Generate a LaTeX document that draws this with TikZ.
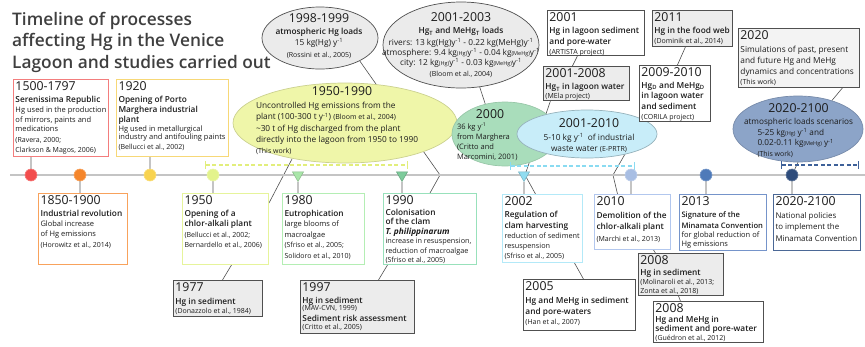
\documentclass[tikz,border=0pt]{standalone}
\usepackage{fontspec}
\setmainfont{Open Sans}
\IfFontExistsTF{Open Sans Semibold}{\newfontfamily\semib{Open Sans Semibold}}{\IfFontExistsTF{Open Sans SemiBold}{\newfontfamily\semib{Open Sans SemiBold}}{\newcommand{\semib}{\bfseries}}}
\usepackage{xcolor}
\usetikzlibrary{shapes.geometric,backgrounds}

\definecolor{tlgray}{HTML}{C4C4C4}
\definecolor{linedark}{HTML}{505050}
\definecolor{boxgray}{HTML}{ECECEC}
\definecolor{boxlight}{HTML}{F3F3F3}
\definecolor{titlegray}{HTML}{3F3F3F}
\definecolor{textdark}{HTML}{1C1C1C}
\definecolor{edge1500}{HTML}{F37D7D}
\definecolor{dot1500}{HTML}{F24D4D}
\definecolor{edge1850}{HTML}{F8A25C}
\definecolor{dot1850}{HTML}{F5862B}
\definecolor{edge1920}{HTML}{F7D877}
\definecolor{dot1920}{HTML}{F8D350}
\definecolor{edge1950}{HTML}{E6F49B}
\definecolor{dot1950}{HTML}{E3F38C}
\definecolor{edge1980}{HTML}{B4EEB4}
\definecolor{dot1980}{HTML}{A9E6A9}
\definecolor{edge1990}{HTML}{98E1BB}
\definecolor{dot1990}{HTML}{7DCB9B}
\definecolor{edge2002}{HTML}{B3E9F8}
\definecolor{dot2002}{HTML}{91DCF0}
\definecolor{edge2010}{HTML}{B2C7EE}
\definecolor{dot2010}{HTML}{A8BEE3}
\definecolor{edge2013}{HTML}{7594CA}
\definecolor{dot2013}{HTML}{4E7AB9}
\definecolor{edge2020}{HTML}{4B6896}
\definecolor{dot2020}{HTML}{2E4C7B}
\definecolor{ovalyellow}{HTML}{EFF6A9}
\definecolor{ovalgreen}{HTML}{A9DDBB}
\definecolor{ovalcyan}{HTML}{C8EDF9}
\definecolor{ovalsteel}{HTML}{8CA4C8}
\definecolor{ovalgray}{HTML}{EBEBEB}
\definecolor{baryellow}{HTML}{E2EE7C}
\definecolor{barcyan}{HTML}{8ADBF1}
\definecolor{barnavy}{HTML}{3E6199}

\newcommand{\yeartxt}[1]{{\fontsize{12.3}{13}\selectfont #1\par}\vspace{1pt}}
\newcommand{\headtxt}[2][10.5]{{\fontsize{8.3}{#1}\selectfont\semib #2\par}}
\newcommand{\bodytxt}[2][9.5]{{\fontsize{7.5}{#1}\selectfont #2\par}}
\newcommand{\reftxt}[2][9.5]{{\fontsize{7}{#1}\selectfont #2\par}}
\newcommand{\tinyu}[1]{{\fontsize{5.5}{5}\selectfont #1}}

\tikzset{
	evbox/.style={draw=#1, line width=1pt, fill=white, anchor=north west, inner xsep=2pt, inner ysep=2.5pt, text=textdark},
	darkbox/.style={evbox=linedark, line width=0.9pt},
	graybox/.style={darkbox, fill=boxgray},
	oval/.style={ellipse, inner sep=0pt, line width=0.7pt},
	ovaltext/.style={inner sep=0pt, text=textdark},
	dot/.style={circle, fill=#1, draw=#1!75!white, line width=0.6pt, minimum size=12pt, inner sep=0pt},
	tri/.style={regular polygon, regular polygon sides=3, shape border rotate=180, fill=#1, draw=#1!80!black, line width=0.5pt, minimum size=13pt, inner sep=0pt},
	stem/.style={draw=tlgray, line width=1.3pt},
	conn/.style={draw=linedark, line width=0.6pt},
	period/.style={draw=#1, line width=1.2pt, dash pattern=on 4pt off 2.5pt, |-|}
}

\begin{document}
\begin{tikzpicture}[x=1pt,y=-1pt]
	\useasboundingbox (0,0) rectangle (865,346);

	\coordinate (tlstart) at (10,175);
	\coordinate (tlend) at (865,175);
	\coordinate (bend1990) at (440,175);
	\coordinate (bend2002) at (525,175);
	\coordinate (bend2010) at (613,175);
	\coordinate (p1950a) at (205,165);
	\coordinate (p1950b) at (408,165);
	\coordinate (p2001a) at (510,166);
	\coordinate (p2001b) at (635,166);
	\coordinate (p2020a) at (781,165);
	\coordinate (p2020b) at (859,165);

	\node[anchor=north west, inner sep=0pt, align=left, text=titlegray, font=\fontsize{17.3}{21.5}\selectfont\semib] (title) at (12,12)
		{Timeline of processes\\affecting Hg in the Venice\\Lagoon and studies carried out};

	\node[oval, fill=ovalgray, draw=linedark, minimum width=116pt, minimum height=62pt] (e1998) at (320,38) {};
	\node[ovaltext] (t1998) at (319,36) {\begin{minipage}{112pt}\centering
		\yeartxt{1998-1999}
		{\fontsize{8.3}{11}\selectfont\semib atmospheric Hg loads\par}
		{\fontsize{8.3}{11}\selectfont 15 kg(Hg) y\textsuperscript{-1}\par}
		{\fontsize{7}{12}\selectfont (Rossini et al., 2005)\par}
	\end{minipage}};

	\node[oval, fill=ovalgray, draw=linedark, minimum width=156pt, minimum height=86pt] (e2001) at (461,45) {};
	\node[ovaltext] (t2001) at (461,45) {\begin{minipage}{160pt}\centering
		\yeartxt{2001-2003}
		{\fontsize{8.3}{11.5}\selectfont\semib Hg\textsubscript{T} and MeHg\textsubscript{T} loads\par}
		{\fontsize{8.3}{11.5}\selectfont rivers: 13 kg(Hg)y\textsuperscript{-1} - 0.22 kg(MeHg)y\textsuperscript{-1}\par}
		{\fontsize{8.3}{10}\selectfont atmosphere: 9.4 kg\tinyu{(Hg)}y\textsuperscript{-1} - 0.04 kg\tinyu{(MeHg)}y\textsuperscript{-1}\\city: 12 kg\tinyu{(Hg)}y\textsuperscript{-1} - 0.03 kg\tinyu{(MeHg)}y\textsuperscript{-1}\par}
		{\fontsize{7}{11}\selectfont (Bloom et al., 2004)\par}
	\end{minipage}};

	\node[oval, fill=ovalyellow, draw=ovalyellow!85!black, minimum width=224pt, minimum height=80pt] (e1950) at (345,123) {};
	\node[ovaltext] (t1950) at (342,121) {\begin{minipage}{172pt}\raggedright
		\yeartxt{\centering 1950-1990}
		{\fontsize{8.3}{11.5}\selectfont Uncontrolled Hg emissions from the\\plant (100-300 t y\textsuperscript{-1}) {\fontsize{7}{7}\selectfont (Bloom et al., 2004)}\\\textasciitilde30 t of Hg discharged from the plant\\directly into the lagoon from 1950 to 1990\par}
		{\fontsize{7}{11}\selectfont (This work)\par}
	\end{minipage}};

	\node[oval, fill=ovalgreen, draw=ovalgreen!90!black, minimum width=106pt, minimum height=64pt] (e2000) at (505,134) {};
	\node[ovaltext] (t2000) at (490,135) {\begin{minipage}{66pt}\raggedright
		\yeartxt{\centering 2000}
		{\fontsize{7.5}{10}\selectfont 36 kg y\textsuperscript{-1}\\from Marghera\\(Critto and\\Marcomini, 2001)\par}
	\end{minipage}};

	\node[oval, fill=ovalcyan, draw=ovalcyan!75!black, minimum width=140pt, minimum height=48pt] (e2010) at (587,134) {};
	\node[ovaltext] (t2010) at (589,136) {\begin{minipage}{105pt}\centering
		\yeartxt{2001-2010}
		{\fontsize{8.3}{11.5}\selectfont 5-10 kg y\textsuperscript{-1}\ \ of industrial\\waste water {\fontsize{7}{7}\selectfont (E-PRTR)}\par}
	\end{minipage}};

	\node[oval, fill=ovalsteel, draw=ovalsteel!85!black, minimum width=130pt, minimum height=66pt] (e2020) at (798,129) {};
	\node[ovaltext] (t2020) at (798.5,131) {\begin{minipage}{112pt}\centering
		\yeartxt{2020-2100}
		{\fontsize{8.2}{11}\selectfont atmospheric loads scenarios\par}
		{\raggedright\leftskip=15pt\fontsize{8.2}{10.5}\selectfont 5-25 kg\tinyu{(Hg)} y\textsuperscript{-1} and\\0.02-0.11 kg\tinyu{(MeHg)} y\textsuperscript{-1}\par}
		{\raggedright\leftskip=15pt\fontsize{7}{11}\selectfont (This work)\par}
	\end{minipage}};

	\draw[period=baryellow] (p1950a) -- (p1950b);
	\draw[period=barcyan] (p2001a) -- (p2001b);
	\draw[period=barnavy] (p2020a) -- (p2020b);

	\node[evbox=edge1500] (b1500) at (13,79) {\begin{minipage}[t][72pt][t]{91pt}\raggedright
		\yeartxt{1500-1797}
		\headtxt{Serenissima Republic}
		\bodytxt[9.8]{Hg used in the production\\of mirrors, paints and\\medications}
		\reftxt[10.5]{(Ravera, 2000;\\Clarkson \& Magos, 2006)}
	\end{minipage}};

	\node[evbox=edge1920] (b1920) at (116,79) {\begin{minipage}[t][72pt][t]{108pt}\raggedright
		\yeartxt{1920}
		\headtxt[10.2]{Opening of Porto\\Marghera industrial\\plant}
		\bodytxt[8.6]{Hg used in metallurgical\\industry and antifouling paints}
		\reftxt[10]{(Bellucci et al., 2002)}
	\end{minipage}};

	\node[evbox=edge1850] (b1850) at (38,193) {\begin{minipage}[t][66pt][t]{85pt}\raggedright
		\yeartxt{1850-1900}
		\headtxt[11]{Industrial revolution}
		\bodytxt[10]{Global increase\\of Hg emissions}
		\reftxt[11]{(Horowitz et al., 2014)}
	\end{minipage}};

	\node[evbox=edge1950] (b1950) at (182,193) {\begin{minipage}[t][66pt][t]{82pt}\raggedright
		\yeartxt{1950}
		\headtxt{Opening of a\\chlor-alkali plant}
		\reftxt[10.5]{(Bellucci et al., 2002;\\Bernardello et al., 2006)}
	\end{minipage}};

	\node[graybox] (b1977) at (173,280) {\begin{minipage}[t][31pt][t]{85pt}\raggedright
		\yeartxt{1977}
		\headtxt[11.5]{Hg in sediment}
		\reftxt[9]{(Donazzolo et al., 1984)}
	\end{minipage}};

	\node[evbox=edge1980] (b1980) at (282,193) {\begin{minipage}[t][66pt][t]{78pt}\raggedright
		\yeartxt{1980}
		\headtxt{Eutrophication}
		\bodytxt[10.5]{large blooms of\\macroalgae}
		\reftxt[10.5]{(Sfriso et al., 2005;\\Solidoro et al., 2010)}
	\end{minipage}};

	\node[graybox] (b1997) at (300,280) {\begin{minipage}[t][48pt][t]{110pt}\raggedright
		\yeartxt{1997}
		\headtxt{Hg in sediment}
		\reftxt[7.5]{(MAV-CVN, 1999)}
		\headtxt[11]{Sediment risk assessment}
		\reftxt[8]{(Critto et al., 2005)}
	\end{minipage}};

	\node[evbox=edge1990] (b1990) at (383,193) {\begin{minipage}[t][66pt][t]{89pt}\raggedright
		\yeartxt{1990}
		\headtxt[9.5]{Colonisation\\of the clam\\{\normalfont\bfseries\itshape T. philippinarum}}
		{\fontsize{7.3}{9.5}\selectfont increase in resuspension,\\reduction of macroalgae\par}
		\reftxt[9.5]{(Sfriso et al., 2005)}
	\end{minipage}};

	\node[evbox=edge2002] (b2002) at (502,194) {\begin{minipage}[t][63pt][t]{76pt}\raggedright
		\yeartxt{2002}
		\headtxt[11]{Regulation of\\clam harvesting}
		{\fontsize{7.3}{10}\selectfont reduction of sediment\\resuspension\par}
		\reftxt[10]{(Sfriso et al., 2005)}
	\end{minipage}};

	\node[darkbox] (b2005) at (523,279) {\begin{minipage}[t][46pt][t]{108pt}\raggedright
		\yeartxt{2005}
		\headtxt[11.5]{Hg and MeHg in sediment\\and pore-waters}
		\reftxt[10]{(Han et al., 2007)}
	\end{minipage}};

	\node[evbox=edge2010] (b2010) at (594,194) {\begin{minipage}[t][50pt][t]{72pt}\raggedright
		\yeartxt{2010}
		\headtxt[11.5]{Demolition of the\\chlor-alkali plant}
		\reftxt[11.5]{(Marchi et al., 2013)}
	\end{minipage}};

	\node[graybox] (b2008a) at (638,253) {\begin{minipage}[t][37pt][t]{81pt}\raggedright
		\yeartxt{2008}
		\headtxt[9.5]{Hg in sediment}
		\reftxt[9]{(Molinaroli et al., 2013;\\Zonta et al., 2018)}
	\end{minipage}};

	\node[darkbox] (b2008b) at (653,301) {\begin{minipage}[t][36pt][t]{106pt}\raggedright
		\yeartxt{2008}
		\headtxt[9]{Hg and MeHg in\\sediment and pore-water}
		\reftxt[8.5]{(Guédron et al., 2012)}
	\end{minipage}};

	\node[evbox=edge2013] (b2013) at (679,194) {\begin{minipage}[t][51pt][t]{83pt}\raggedright
		\yeartxt{2013}
		{\fontsize{7.6}{11}\selectfont\semib Signature of the\\Minamata Convention\par}
		\bodytxt[9]{for global reduction of\\Hg emissions}
	\end{minipage}};

	\node[evbox=edge2020] (b2020p) at (773,194) {\begin{minipage}[t][51pt][t]{83pt}\raggedright
		\yeartxt{2020-2100}
		{\fontsize{7.9}{11.5}\selectfont National policies\\to implement the\\Minamata Convention\par}
	\end{minipage}};

	\node[darkbox] (b2001) at (547,10) {\begin{minipage}[t][40pt][t]{93pt}\raggedright
		\yeartxt{2001}
		\headtxt[11]{Hg in lagoon sediment\\and pore-water}
		\reftxt[10]{(ARTISTA project)}
	\end{minipage}};

	\node[graybox] (b2001m) at (543,66) {\begin{minipage}[t][29pt][t]{82pt}\raggedright
		\yeartxt{2001-2008}
		\headtxt[11]{Hg\textsubscript{T} in lagoon water}
		\reftxt[9]{(MEla project)}
	\end{minipage}};

	\node[graybox] (b2011) at (652,10) {\begin{minipage}[t][31pt][t]{76pt}\raggedright
		\yeartxt{2011}
		\headtxt[11]{Hg in the food web}
		\reftxt[9.5]{(Dominik et al., 2014)}
	\end{minipage}};

	\node[darkbox] (b2009) at (639,65) {\begin{minipage}[t][51pt][t]{67pt}\raggedright
		\yeartxt{2009-2010}
		\headtxt[10.5]{Hg\textsubscript{D} and MeHg\textsubscript{D}\\in lagoon water\\and sediment}
		\reftxt[10]{(CORILA project)}
	\end{minipage}};

	\node[darkbox, fill=boxlight] (b2020) at (738,28) {\begin{minipage}[t][54pt][t]{117pt}\raggedright
		\yeartxt{2020}
		{\fontsize{8.3}{11.2}\selectfont Simulations of past, present\\and future Hg and MeHg\\dynamics and concentrations\par}
		\reftxt[10]{(This work)}
	\end{minipage}};

	\node[dot=dot1500] (d1500) at (31,175) {};
	\node[dot=dot1850] (d1850) at (80,175) {};
	\node[dot=dot1920] (d1920) at (150,175) {};
	\node[dot=dot1950] (d1950) at (213,175) {};
	\node[tri=dot1980] (t1980) at (298,175) {};
	\node[tri=dot1990] (t1990) at (402,175) {};
	\node[tri=dot2002] (t2002) at (524,175) {};
	\node[dot=dot2010] (d2010) at (631,175) {};
	\node[dot=dot2013] (d2013) at (706,175) {};
	\node[dot=dot2020] (d2020) at (792,175) {};

	\begin{scope}[on background layer]
		\draw[conn] (e1998.-30) -- (bend1990) -- (b1990.north);
		\draw[conn] ([yshift=-10pt]b1950.north east) -- (e1950.-146);
		\draw[conn] (e2001.-66) -- ([xshift=-10pt]e2000.center);
		\draw[conn] ([xshift=-36pt]b2001m.south) -- (bend2002) -- ([xshift=-7pt]b2002.north);
		\draw[conn] ([xshift=-31.5pt]b2009.south) -- (bend2010) -- ([xshift=-15pt]b2010.north);
		\draw[conn] ([xshift=6pt]b1950.south) -- ([xshift=4.5pt]b1977.north);
		\draw[conn] ([xshift=-42.5pt]b1990.south) -- ([xshift=21pt]b1997.north);
		\draw[conn] ([xshift=32pt]b2002.south) -- ([xshift=4pt]b2005.north);
		\draw[conn] ([xshift=21pt]b2010.south) -- ([xshift=-25.5pt]b2008a.north);
		\draw[conn] ([xshift=-2.5pt]b2008a.south) -- ([xshift=-28pt]b2008b.north);
		\draw[conn] ([xshift=-18.5pt]b2001.south) -- ([xshift=-14pt]b2001m.north);
		\draw[conn] ([xshift=-7pt]b2011.south) -- ([xshift=2.5pt]b2009.north);
		\draw[conn] ([xshift=43.5pt]b2020.south) -- (e2020.40);
		\draw[conn] (e2020.south) -- (d2020);

		\draw[stem, line width=2.6pt] (tlstart) -- (tlend);
		\draw[stem] (d1500) -- (d1500 |- b1500.south);
		\draw[stem] (d1920) -- (d1920 |- b1920.south);
		\draw[stem] (d1850) -- (d1850 |- b1850.north);
		\draw[stem] (d1950) -- (d1950 |- b1950.north);
		\draw[stem] (t1980) -- (t1980 |- b1980.north);
		\draw[stem] (t1990) -- (t1990 |- b1990.north);
		\draw[stem] (t2002) -- (t2002 |- b2002.north);
		\draw[stem] (d2010) -- (d2010 |- b2010.north);
		\draw[stem] (d2013) -- (d2013 |- b2013.north);
		\draw[stem] (d2020) -- (d2020 |- b2020p.north);
	\end{scope}
\end{tikzpicture}
\end{document}
